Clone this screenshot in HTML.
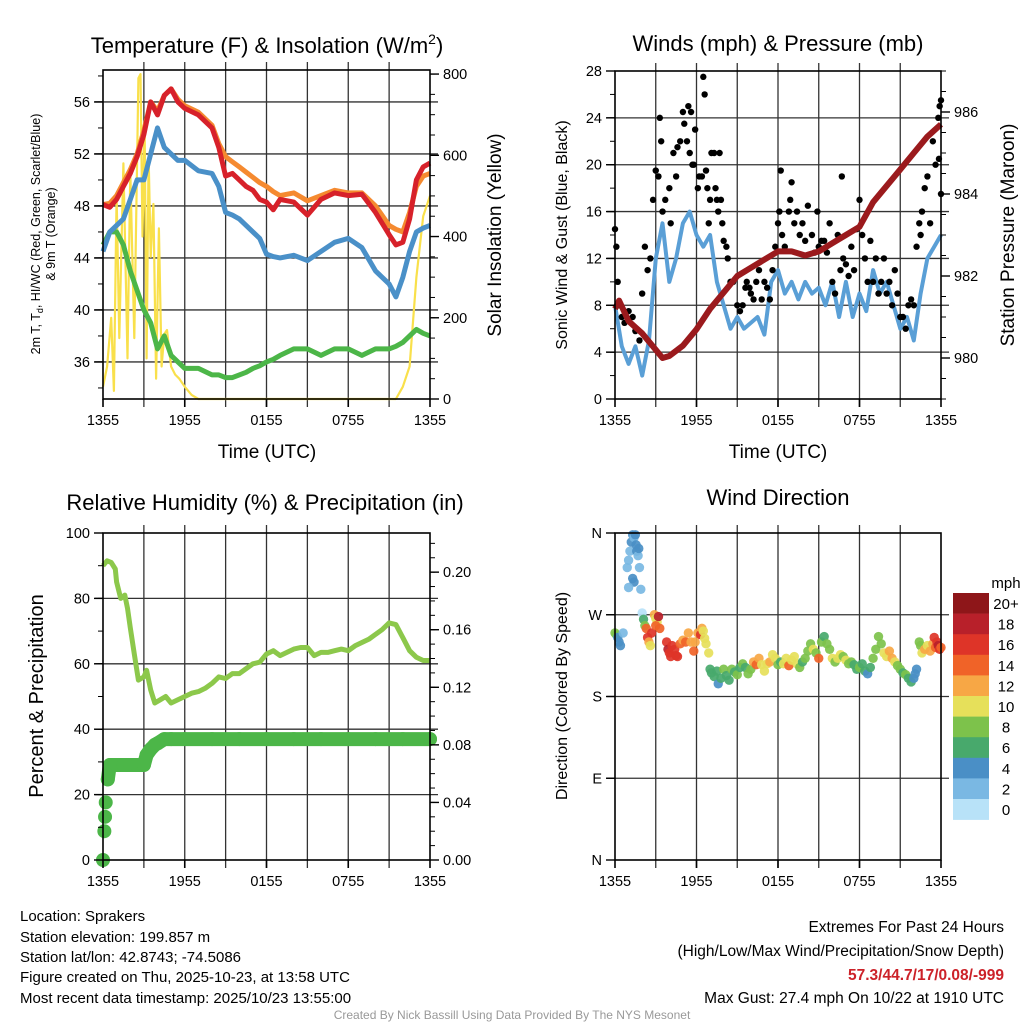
<!DOCTYPE html>
<html><head><meta charset="utf-8">
<style>
html,body{margin:0;padding:0;background:#fff;}
svg{display:block;font-family:"Liberation Sans",Arial,sans-serif;}
</style></head>
<body>
<svg id="root" width="1024" height="1024" viewBox="0 0 1024 1024" xmlns="http://www.w3.org/2000/svg">
<rect x="0" y="0" width="1024" height="1024" fill="#fff"/>
<g id="layer"></g>
<text x="267" y="53" font-size="22" text-anchor="middle">Temperature (F) &amp; Insolation (W/m<tspan font-size="14" dy="-9">2</tspan><tspan dy="9">)</tspan></text>
<text x="778" y="51" font-size="22" text-anchor="middle">Winds (mph) &amp; Pressure (mb)</text>
<text x="265" y="510" font-size="22" text-anchor="middle">Relative Humidity (%) &amp; Precipitation (in)</text>
<text x="778" y="505" font-size="22" text-anchor="middle">Wind Direction</text>
<text x="267" y="458" font-size="19" text-anchor="middle">Time (UTC)</text>
<text x="778" y="458" font-size="19" text-anchor="middle">Time (UTC)</text>
<text transform="translate(40,234) rotate(-90)" font-size="12.5" text-anchor="middle">2m T, T<tspan font-size="9" dy="3">d</tspan><tspan dy="-3">, HI/WC (Red, Green, Scarlet/Blue)</tspan></text>
<text transform="translate(55,234) rotate(-90)" font-size="12.5" text-anchor="middle">&amp; 9m T (Orange)</text>
<text transform="translate(501,235) rotate(-90)" font-size="19" text-anchor="middle">Solar Insolation (Yellow)</text>
<text transform="translate(567,235) rotate(-90)" font-size="16" text-anchor="middle">Sonic Wind &amp; Gust (Blue, Black)</text>
<text transform="translate(1014,235) rotate(-90)" font-size="19" text-anchor="middle">Station Pressure (Maroon)</text>
<text transform="translate(43,696) rotate(-90)" font-size="20" text-anchor="middle">Percent &amp; Precipitation</text>
<text transform="translate(567,696) rotate(-90)" font-size="16" text-anchor="middle">Direction (Colored By Speed)</text>
<text x="1006" y="588" font-size="15" text-anchor="middle">mph</text>
<g font-size="15">
<text x="20" y="921">Location: Sprakers</text>
<text x="20" y="942">Station elevation: 199.857 m</text>
<text x="20" y="962">Station lat/lon: 42.8743; -74.5086</text>
<text x="20" y="982">Figure created on Thu, 2025-10-23, at 13:58 UTC</text>
<text x="20" y="1003">Most recent data timestamp: 2025/10/23 13:55:00</text>
</g>
<g font-size="15.5" text-anchor="end">
<text x="1004" y="932">Extremes For Past 24 Hours</text>
<text x="1004" y="956">(High/Low/Max Wind/Precipitation/Snow Depth)</text>
<text x="1004" y="980" fill="#cc2229" font-weight="bold">57.3/44.7/17/0.08/-999</text>
<text x="1004" y="1003">Max Gust: 27.4 mph On 10/22 at 1910 UTC</text>
</g>
<text x="512" y="1019" font-size="12" fill="#999" text-anchor="middle">Created By Nick Bassill Using Data Provided By The NYS Mesonet</text>
</svg>
<script>
// ---------- data ----------
const xTickHours = [0, 6, 12, 18, 24];
const xTickLabels = ["1355", "1955", "0155", "0755", "1355"];

const tHours = [0,0.5,1,1.5,2,2.5,3,3.5,4,4.5,5,5.5,6,7,8,8.5,9,9.5,10,10.5,11,11.5,12,12.5,13,14,15,16,17,18,19,20,21,21.5,22,22.5,23,23.5,24];
const tRed =   [48.1,47.9,48.5,49.5,50.5,51.8,53.5,56,55,56.5,57,56,55.5,55,54,52.5,50.3,50.5,50,49.5,49.2,48.5,48.3,47.7,48.5,48.3,47.3,48.5,49,48.8,48.9,47.5,45.8,45,45.2,47,50,51,51.3];
const tOrange =[48.1,48.2,48.8,49.8,50.8,52,53.8,56,55.3,56.5,57,56.2,55.7,55.2,54.2,52.8,51.8,51.4,51,50.6,50.2,49.8,49.5,49.1,48.8,49,48.4,48.8,49.2,49,49,48,46.5,46.2,46,47.5,49.5,50.3,50.5];
const tBlue =  [44.5,46,46.5,47,48.5,50,50,52,54,52.5,52,51.5,51.5,50.7,50.5,49.5,47.5,47.3,47,46.5,46,45.5,44.3,44.1,44,44.2,43.8,44.5,45.2,45.5,44.8,43,42,41,42.5,44.5,46,46.3,46.5];
const tGreen = [45,46,46,45,43,41.5,40,39,37,38,36.5,36,35.5,35.5,35,35,34.8,34.8,35,35.2,35.5,35.7,36,36.2,36.5,37,37,36.5,37,37,36.5,37,37,37.2,37.5,38,38.5,38.2,38];

const solHours = [0,0.3,0.6,0.8,1,1.2,1.5,1.8,2,2.3,2.6,2.75,2.9,3.05,3.2,3.35,3.5,3.7,3.9,4.1,4.3,4.5,4.7,5,5.3,5.6,6,6.5,7,21.5,22,22.5,23,23.5,24];
const solVals  = [30,80,200,20,500,150,580,100,560,150,790,800,400,680,100,600,350,480,50,420,80,160,170,80,60,50,30,10,0,0,30,80,300,450,500];

const windHours = [0,0.5,1,1.5,2,2.5,3,3.5,4,4.5,5,5.5,6,6.5,7,7.5,8,8.5,9,9.5,10,10.5,11,11.5,12,12.5,13,13.5,14,14.5,15,15.5,16,16.5,17,17.5,18,18.5,19,19.5,20,20.5,21,21.5,22,22.5,23,23.5,24];
const windVals  = [8,4.5,3,4.5,2,5,12,15,10,12,15,16,14,13,14,10,8,6,7,6,6.5,7,5.5,10,11,9,10,8.5,10,9,9.5,8,10,7,10,7,9,7.5,11,9,10,8,6,7,5,9,12,13,14];

const presHours = [0,0.3,1,2,3,3.5,4,5,6,7,8,9,10,11,12,13,14,15,16,17,18,19,20,21,22,23,24];
const presVals  = [981.2,981.4,980.9,980.6,980.2,980.0,980.05,980.3,980.7,981.2,981.6,982.0,982.2,982.4,982.6,982.6,982.5,982.6,982.8,983.0,983.2,983.8,984.2,984.6,985.0,985.4,985.7];

const gustHours = [0,0.1,0.2,0.3,0.5,0.7,1,1.3,1.5,1.8,2,2.2,2.4,2.6,2.8,3,3.2,3.3,3.4,3.5,3.7,4,4.1,4.3,4.5,4.6,4.8,5,5.1,5.3,5.4,5.5,5.6,5.7,5.8,5.9,6.1,6.2,6.4,6.5,6.6,6.7,6.8,6.9,7,7.1,7.3,7.4,7.5,7.6,7.7,7.8,7.9,8,8.2,8.3,8.5,8.7,9,9.2,9.4,9.6,9.7,9.9,10,10.2,10.4,10.6,10.8,11,11.2,11.4,11.6,11.8,12,12.1,12.2,12.3,12.5,12.8,12.9,13,13.2,13.4,13.6,13.8,14,14.2,14.5,14.7,14.9,15,15.2,15.4,15.6,15.8,16,16.2,16.4,16.6,16.7,16.8,17,17.2,17.4,17.6,17.8,18,18.2,18.4,18.6,18.8,19,19.2,19.4,19.6,19.8,20,20.2,20.4,20.6,20.8,21,21.2,21.4,21.6,21.8,22,22.2,22.4,22.5,22.6,22.8,23,23.2,23.4,23.6,23.8,23.85,23.9,24,24];
const gustVals  = [14.5,13,10,8,7,6.5,7.5,7,5.8,5,9,13,11,12,17,19.5,19,24,22,16,17,18,15,21,19,21.5,22,24.5,23.5,22,25,21,24.5,20,20,23,18,19,19,27.5,26,19.5,18,15,17,21,21,18,17,16,21,17,15,13.5,13,12,10,10,8,7.5,8,9.5,10,9.5,9,8.5,10,11,8.5,10,9.5,8.5,11,13,15,16,19.5,14,13,16,17,18.5,15,16,14,15,13.5,16.5,14,12.5,16,13,13.5,13.5,12.5,15,10,9,14,11,19,12,11.5,10.5,13,11,14.5,17,14,12,10,13.5,10,12,9,10,12,9,10,8,11,9,7,7,6,8,8.5,8,13,15,14,16,18,19,15,22,20,24,20.5,25,25.5,17.5];

const rhHours = [0,0.3,0.6,0.9,1,1.3,1.6,1.8,2,2.3,2.6,3,3.2,3.5,3.8,4.2,4.6,5,5.5,6,6.5,7,7.5,8,8.5,9,9.5,10,10.5,11,11.5,12,12.5,13,13.5,14,14.5,15,15.5,16,16.5,17,17.5,18,18.5,19,19.5,20,20.5,21,21.5,22,22.5,23,23.5,24];
const rhVals  = [90,91.5,91,89,85,80,81,77,71,63,55,56,58,52,48,49,50,48,49,50,51,51.5,52.5,54,56,55.5,57,57,58.5,60,60.5,63,64,62.5,63.5,64.5,65,65,62.5,63.5,63.5,64,64.5,64,65.5,66.5,67.5,69,70.5,72.5,72,68,64,62,61,61];

const prHours = [0,0.1,0.15,0.2,0.35,0.5,1,1.5,2,2.5,3,3.2,3.5,3.8,4,4.5,5,6,8,10,12,14,16,18,20,22,24];
const prVals  = [0,0.02,0.03,0.04,0.056,0.066,0.066,0.066,0.066,0.066,0.066,0.073,0.077,0.08,0.081,0.084,0.084,0.084,0.084,0.084,0.084,0.084,0.084,0.084,0.084,0.084,0.084];

const dirHours = [0,0.1,0.2,0.3,0.4,0.6,0.9,1.0,1.1,1.2,1.3,1.4,1.5,1.55,1.6,1.7,1.75,1.8,1.3,1.4,1.0,1.9,2.0,2.1,2.2,2.3,2.4,2.5,2.6,2.7,2.9,3.0,3.1,3.2,3.3,3.0,3.8,3.9,4.0,4.1,4.2,4.4,4.5,4.6,4.8,5.0,5.2,5.4,5.6,5.8,5.9,6.1,6.3,6.4,6.5,6.6,6.7,6.9,7.0,7.1,7.3,7.5,7.6,7.8,8.0,8.2,8.4,8.6,8.8,9.0,9.2,9.4,9.6,9.8,10.0,10.2,10.4,10.6,10.8,11.0,11.2,11.4,11.6,11.8,12.0,12.2,12.4,12.6,12.8,13.0,13.2,13.4,13.6,13.8,14.0,14.2,14.4,14.6,14.8,15.0,15.2,15.4,15.6,15.8,16.0,16.2,16.4,16.6,16.8,17.0,17.2,17.4,17.6,17.8,18.0,18.2,18.4,18.6,18.8,19.0,19.2,19.4,19.6,19.8,20.0,20.2,20.4,20.6,20.8,21.0,21.2,21.4,21.6,21.8,22.0,22.1,22.2,22.4,22.5,22.6,22.8,23.0,23.2,23.4,23.5,23.6,23.7,23.8,23.9,24.0];
const dirDeg   = [250,248,245,240,236,250,322,330,340,350,358,355,358,347,340,335,343,322,310,306,300,298,272,265,258,255,245,240,236,250,270,266,262,268,255,258,240,232,228,224,236,232,225,224,238,242,240,250,240,230,240,250,248,255,252,244,238,228,210,206,202,208,194,200,210,203,198,210,207,204,212,216,212,205,210,218,215,222,215,208,216,218,226,222,215,218,216,222,214,220,224,216,212,218,222,230,238,232,228,222,240,246,238,232,222,218,222,226,224,220,216,218,215,210,212,216,208,205,212,222,232,246,238,228,224,230,222,218,214,210,206,204,200,196,200,205,210,240,236,228,232,236,230,238,245,234,240,236,232,234];
const dirSpd   = [9,8,5,4,4,3,3,2,3,4,4,3,5,4,4,3,5,2,4,5,2,2,1,7,8,14,16,12,11,17,12,10,10,18,14,15,17,18,17,16,16,16,17,16,15,13,15,12,12,15,13,12,16,12,11,11,10,10,6,7,6,6,4,6,8,6,6,8,6,8,7,8,6,8,8,13,14,12,10,10,11,12,11,10,8,7,11,10,14,11,10,10,9,6,9,8,9,10,8,14,8,7,8,9,10,9,10,10,9,10,9,8,7,6,8,6,7,4,6,8,8,8,9,10,11,12,12,10,8,8,6,8,6,6,4,4,5,8,9,10,12,11,12,13,16,14,16,18,16,14];

const cbLabels = ["20+","18","16","14","12","10","8","6","4","2","0"];
const cbColors = ["#8e1619","#b8202a","#de3428","#f06328","#f7a745","#e6e05a","#7dc24b","#48a96c","#4a8fc6","#7ab8e3","#b8e2f8"];

// ---------- helpers ----------
const NS = "http://www.w3.org/2000/svg";
const layer = document.getElementById('layer');
function el(tag, attrs, parent) {
  const e = document.createElementNS(NS, tag);
  for (const k in attrs) e.setAttribute(k, attrs[k]);
  (parent || layer).appendChild(e);
  return e;
}
function lin(d0, d1, r0, r1) { return v => r0 + (v - d0) * (r1 - r0) / (d1 - d0); }

const P1 = {x0:103,x1:430,y0:70,y1:399};
const P2 = {x0:615,x1:941,y0:71,y1:399};
const P3 = {x0:103,x1:430,y0:533,y1:860};
const P4 = {x0:615,x1:941,y0:533,y1:860};

function pathD(xs, ys, fx, fy) {
  return xs.map((h, i) => (i ? 'L' : 'M') + fx(h).toFixed(1) + ',' + fy(ys[i]).toFixed(1)).join('');
}

function grid(P, fx, yvals, fy, name) {
  const g = el('g', {});
  
  
  for (let h = 3; h < 24; h += 3) {
    const l = el('line', {x1:fx(h), x2:fx(h), y1:P.y0 - 8, y2:P.y1 + 8, stroke:'#333', 'stroke-width':1.3}, g);
    
    
  }
  yvals.forEach(v => {
    const l = el('line', {x1:P.x0 - 8, x2:P.x1 + 8, y1:fy(v), y2:fy(v), stroke:'#333', 'stroke-width':1.3}, g);
    
    
  });
}
function frame(P, fx, name) {
  const r = el('rect', {x:P.x0, y:P.y0, width:P.x1 - P.x0, height:P.y1 - P.y0, fill:'none', stroke:'#000', 'stroke-width':1.6});
  
  
  xTickHours.forEach((h, i) => {
    const t = el('line', {x1:fx(h), x2:fx(h), y1:P.y1, y2:P.y1 + 8, stroke:'#000', 'stroke-width':1.6});
    
    
    const tx = el('text', {x:fx(h), y:P.y1 + 26, 'font-size':14.5, 'text-anchor':'middle'});
    tx.textContent = xTickLabels[i];
    
    
  });
}
function yAxis(P, side, fy, majors, minors, fmt, name) {
  const x = side === 'left' ? P.x0 : P.x1;
  const dir = side === 'left' ? -1 : 1;
  minors.forEach(v => {
    const t = el('line', {x1:x, x2:x + dir * 5, y1:fy(v), y2:fy(v), stroke:'#000', 'stroke-width':1});
    
    
  });
  majors.forEach(v => {
    const t = el('line', {x1:x, x2:x + dir * 9, y1:fy(v), y2:fy(v), stroke:'#000', 'stroke-width':1.4});
    
    
    const tx = el('text', {x:x + dir * 13, y:fy(v) + 5, 'font-size':14.5, 'text-anchor': side === 'left' ? 'end' : 'start'});
    tx.textContent = fmt(v);
    
    
  });
}
function range(a, b, s) { const r = []; for (let v = a; v <= b + 1e-9; v += s) r.push(+v.toFixed(4)); return r; }

// ---------- panel 1: temperature ----------
const fx1 = lin(0, 24, P1.x0, P1.x1);
const fyT = lin(33.15, 33.15 + 329 / 13, P1.y1, P1.y0);
const fyS = lin(0, 810, P1.y1, P1.y0);
grid(P1, fx1, [36,40,44,48,52,56], fyT, 'temperature');
const solar = el('path', {d:pathD(solHours, solVals, fx1, fyS), fill:'none', stroke:'#f9e04b', 'stroke-width':2.2, 'stroke-linejoin':'round'});


const greenL = el('path', {d:pathD(tHours, tGreen, fx1, fyT), fill:'none', stroke:'#4cb648', 'stroke-width':5, 'stroke-linejoin':'round'});


const blueL = el('path', {d:pathD(tHours, tBlue, fx1, fyT), fill:'none', stroke:'#4a90c8', 'stroke-width':5, 'stroke-linejoin':'round'});


const orangeL = el('path', {d:pathD(tHours, tOrange, fx1, fyT), fill:'none', stroke:'#f58a30', 'stroke-width':5, 'stroke-linejoin':'round'});


const redL = el('path', {d:pathD(tHours, tRed, fx1, fyT), fill:'none', stroke:'#d7212a', 'stroke-width':5, 'stroke-linejoin':'round'});


frame(P1, fx1, 'temperature');
yAxis(P1, 'left', fyT, [36,40,44,48,52,56], range(34,58,2), v => v, 'temperature-y');
yAxis(P1, 'right', fyS, [0,200,400,600,800], range(0,800,50), v => v, 'insolation-y');

// ---------- panel 2: winds ----------
const fx2 = lin(0, 24, P2.x0, P2.x1);
const fyW = lin(0, 28, P2.y1, P2.y0);
const fyP = lin(979, 987, P2.y1, P2.y0);
grid(P2, fx2, [4,8,12,16,20,24], fyW, 'winds');
const windL = el('path', {d:pathD(windHours, windVals, fx2, fyW), fill:'none', stroke:'#5a9fd6', 'stroke-width':4, 'stroke-linejoin':'round'});


gustHours.forEach((h, i) => {
  const c = el('circle', {cx:fx2(h), cy:fyW(gustVals[i]), r:3.2, fill:'#000'});
  
  
});
const presL = el('path', {d:pathD(presHours, presVals, fx2, fyP), fill:'none', stroke:'#9b1a1d', 'stroke-width':6, 'stroke-linejoin':'round'});


frame(P2, fx2, 'winds');
yAxis(P2, 'left', fyW, [0,4,8,12,16,20,24,28], range(0,28,2), v => v, 'wind-y');
yAxis(P2, 'right', fyP, [980,982,984,986], range(979,987,0.5), v => v, 'pressure-y');

// ---------- panel 3: humidity ----------
const fx3 = lin(0, 24, P3.x0, P3.x1);
const fyR = lin(0, 100, P3.y1, P3.y0);
const fyPr = lin(0, 0.2272, P3.y1, P3.y0);
grid(P3, fx3, [20,40,60,80], fyR, 'humidity');
const rhL = el('path', {d:pathD(rhHours, rhVals, fx3, fyR), fill:'none', stroke:'#8cc84b', 'stroke-width':5, 'stroke-linejoin':'round'});


const prL = el('path', {d:pathD(prHours.slice(4), prVals.slice(4), fx3, fyPr), fill:'none', stroke:'#4cb648', 'stroke-width':14, 'stroke-linecap':'round', 'stroke-linejoin':'round'});


prHours.forEach((h, i) => {
  const c = el('circle', {cx:fx3(h), cy:fyPr(prVals[i]), r:7, fill:'#4cb648'});
  
  
});
frame(P3, fx3, 'humidity');
yAxis(P3, 'left', fyR, [0,20,40,60,80,100], range(0,100,10), v => v, 'humidity-y');
yAxis(P3, 'right', fyPr, [0,0.04,0.08,0.12,0.16,0.20], range(0,0.22,0.01), v => v.toFixed(2), 'precip-y');

// ---------- panel 4: direction ----------
const fx4 = lin(0, 24, P4.x0, P4.x1);
const fyD = lin(0, 360, P4.y1, P4.y0);
grid(P4, fx4, [90,180,270], fyD, 'direction');
function spdColor(s) { const idx = Math.min(10, Math.floor(s / 2)); return cbColors[10 - idx]; }
dirHours.forEach((h, i) => {
  const c = el('circle', {cx:fx4(h), cy:fyD(dirDeg[i]), r:4.7, fill:spdColor(dirSpd[i]), 'fill-opacity':0.92});
  
  
});
frame(P4, fx4, 'direction');
yAxis(P4, 'left', fyD, [0,90,180,270,360], [], v => ['N','E','S','W','N'][v / 90], 'direction-y');

const cbX = 953, cbY = 593, cbH = 20.6;
cbColors.forEach((col, i) => {
  const r = el('rect', {x:cbX, y:cbY + i * cbH, width:36, height:cbH + 0.3, fill:col});
  
  
  const t = el('text', {x:1006, y:cbY + i * cbH + 16, 'font-size':15, 'text-anchor':'middle'});
  t.textContent = cbLabels[i];
  
  
});
</script>
</body></html>
